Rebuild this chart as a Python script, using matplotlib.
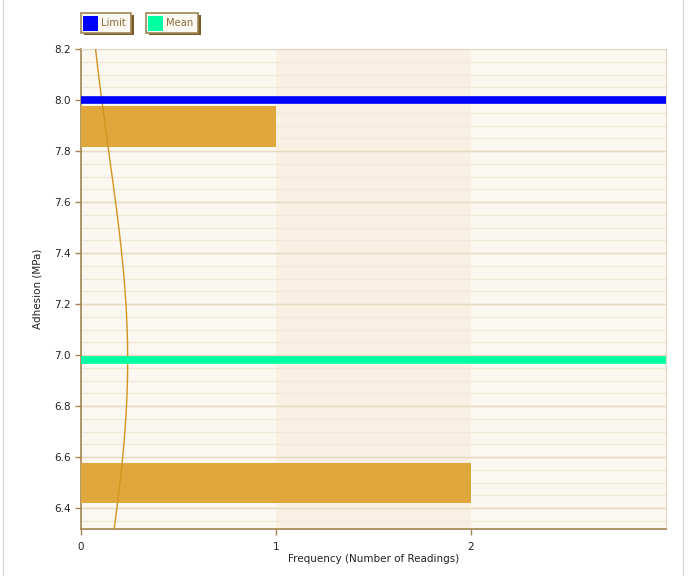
import matplotlib
matplotlib.use("Agg")
import matplotlib.pyplot as plt
from matplotlib.patches import Rectangle
from matplotlib.lines import Line2D
import numpy as np

# histogram data (Adhesion, MPa)
bin_centers = [6.497, 7.896]
bin_counts = [2, 1]
bin_height = 0.158
bin_width = 0.16

# summary stats
n_readings = 3
mean_val = 6.98
sd_val = 0.80
limit_val = 8.0

y_ticks = [6.4, 6.6, 6.8, 7.0, 7.2, 7.4, 7.6, 7.8, 8.0, 8.2]
x_ticks = [0, 1, 2]

W, H = 696, 576
fig = plt.figure(figsize=(W / 100, H / 100), dpi=100)
fig.patch.set_facecolor("white")


def fx(px):
    return px / W


def fy(py):
    return 1 - py / H


ax = fig.add_axes([fx(81), fy(529), fx(666) - fx(81), fy(49) - fy(529)])
ax.set_facecolor("#fbf8f1")
ax.set_xlim(0, 3)
ax.set_ylim(6.318, 8.2)

# alternating vertical bands
ax.axvspan(1, 2, color="#f8f0e3", zorder=0, lw=0)

# grid lines
for v in np.arange(6.35, 8.2, 0.05):
    ax.axhline(v, color="#f2e9d8", lw=1, zorder=1)
for v in y_ticks:
    ax.axhline(v, color="#e6dac2", lw=1, zorder=1)

# bars
ax.barh(bin_centers, bin_counts, height=bin_height, color="#e0a83c", zorder=3, lw=0)

# fitted normal curve
yy = np.linspace(6.318, 8.2, 300)
curve = n_readings * bin_width / (sd_val * np.sqrt(2 * np.pi)) * np.exp(-(yy - mean_val) ** 2 / (2 * sd_val ** 2))
ax.plot(curve, yy, color="#d4941f", lw=1, zorder=4)

# limit and mean lines
ax.axhline(limit_val, color="#0000ff", lw=5.5, zorder=5)
ax.axhline(mean_val, color="#00ffa0", lw=5.5, zorder=5)

ax.set_yticks(y_ticks)
ax.set_yticklabels([f"{v:.1f}" for v in y_ticks])
ax.set_xticks(x_ticks)
ax.tick_params(axis="both", colors="#a48450", labelcolor="#222222", labelsize=7.5, length=4, width=1)
ax.tick_params(axis="x", pad=5)

for side in ["top", "right"]:
    ax.spines[side].set_color("#e2d7c2")
for side in ["left", "bottom"]:
    ax.spines[side].set_color("#a48450")
    ax.spines[side].set_linewidth(1.2)

ax.set_xlabel("Frequency (Number of Readings)", fontsize=7.5, color="#222222", labelpad=2)
ax.set_ylabel("Adhesion (MPa)", fontsize=7.5, color="#222222", labelpad=8)

# page borders
fig.add_artist(Line2D([fx(3), fx(3)], [0, 1], color="#d8d8d8", lw=1))
fig.add_artist(Line2D([fx(683), fx(683)], [0, 1], color="#d8d8d8", lw=1))

# legend boxes
legend_items = [("Limit", "#0000ff", 81, 131), ("Mean", "#00ffa0", 146, 198)]
for label, col, x0, x1 in legend_items:
    fig.add_artist(Rectangle((fx(x0 + 3), fy(35)), fx(x1 - x0), fy(14) - fy(34),
                             facecolor="#7a5a28", edgecolor="none"))
    fig.add_artist(Rectangle((fx(x0), fy(33)), fx(x1 - x0), fy(13) - fy(33),
                             facecolor="#fbf8f1", edgecolor="#a08658", lw=1.2))
    fig.add_artist(Rectangle((fx(x0 + 2), fy(31)), fx(15), fy(16) - fy(31),
                             facecolor=col, edgecolor="none"))
    fig.text(fx(x0 + 20), fy(23), label, fontsize=7.2, color="#8c6d3f", va="center", ha="left")

fig.savefig("out.png", dpi=100)
